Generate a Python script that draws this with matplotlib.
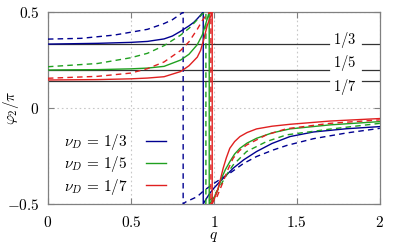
import matplotlib
matplotlib.use("Agg")
import matplotlib.pyplot as plt

plt.rcParams['mathtext.fontset'] = 'cm'
plt.rcParams['font.family'] = ['DejaVu Serif']

# values
nu_labels = ['1/3', '1/5', '1/7']
nu_values = [1/3, 1/5, 1/7]
level_label_y = [0.352, 0.237, 0.111]
colors = ['#000090', '#20a020', '#e02020']

# solid curves
q_solid = [
    [0, 0.3, 0.5, 0.6, 0.7, 0.75, 0.8, 0.85, 0.88, 0.9, 0.92, 0.936, 0.936, 0.955, 0.976, 1.0, 1.036,
     1.075, 1.116, 1.18, 1.257, 1.35, 1.458, 1.6, 1.8, 2.0],
    [0, 0.3, 0.5, 0.6, 0.7, 0.8, 0.85, 0.9, 0.93, 0.955, 0.972, 0.972, 0.995, 1.016, 1.03, 1.046,
     1.07, 1.096, 1.125, 1.157, 1.2, 1.257, 1.35, 1.458, 1.7, 2.0],
    [0, 0.3, 0.5, 0.6, 0.7, 0.8, 0.85, 0.9, 0.92, 0.94, 0.96, 0.99, 0.99, 1.0, 1.013, 1.026, 1.04,
     1.056, 1.075, 1.096, 1.125, 1.157, 1.2, 1.257, 1.35, 1.458, 1.7, 2.0],
]
phi_solid = [
    [0.333, 0.337, 0.342, 0.347, 0.36, 0.375, 0.40, 0.428, 0.447, 0.465, 0.484, 0.5, -0.5, -0.472,
     -0.444, -0.418, -0.384, -0.35, -0.314, -0.27, -0.227, -0.185, -0.149, -0.125, -0.108, -0.097],
    [0.198, 0.200, 0.204, 0.208, 0.217, 0.25, 0.28, 0.33, 0.38, 0.45, 0.5, -0.5, -0.475, -0.444,
     -0.41, -0.366, -0.32, -0.28, -0.24, -0.21, -0.183, -0.158, -0.13, -0.109, -0.088, -0.071],
    [0.146, 0.148, 0.152, 0.156, 0.163, 0.19, 0.22, 0.265, 0.30, 0.36, 0.43, 0.5, -0.5, -0.48, -0.45,
     -0.418, -0.37, -0.314, -0.26, -0.21, -0.175, -0.149, -0.128, -0.109, -0.095, -0.085, -0.068, -0.055],
]

# dashed curves
q_dash = [
    [0, 0.2, 0.4, 0.5, 0.6, 0.7, 0.75, 0.8, 0.815, 0.815, 0.83, 0.9, 0.94, 1.016, 1.096, 1.177,
     1.257, 1.357, 1.44, 1.6, 1.8, 2.0],
    [0, 0.3, 0.5, 0.6, 0.7, 0.8, 0.85, 0.9, 0.93, 0.952, 0.952, 0.99, 1.036, 1.076, 1.116, 1.197,
     1.317, 1.438, 1.7, 2.0],
    [0, 0.3, 0.5, 0.6, 0.7, 0.8, 0.85, 0.9, 0.93, 0.96, 0.982, 0.982, 1.02, 1.056, 1.085, 1.116,
     1.155, 1.197, 1.317, 1.438, 1.7, 2.0],
]
phi_dash = [
    [0.359, 0.363, 0.38, 0.395, 0.41, 0.44, 0.46, 0.49, 0.5, -0.5, -0.49, -0.462, -0.43, -0.384,
     -0.34, -0.29, -0.253, -0.219, -0.195, -0.16, -0.13, -0.106],
    [0.215, 0.232, 0.262, 0.285, 0.325, 0.38, 0.415, 0.46, 0.49, 0.5, -0.5, -0.47, -0.41, -0.349,
     -0.297, -0.227, -0.175, -0.14, -0.11, -0.08],
    [0.155, 0.165, 0.182, 0.205, 0.24, 0.30, 0.345, 0.41, 0.455, 0.49, 0.5, -0.5, -0.46, -0.384,
     -0.32, -0.262, -0.222, -0.193, -0.14, -0.108, -0.08, -0.062],
]

fig = plt.figure(figsize=(3.99, 2.46), dpi=100)
ax = fig.add_axes([0.12, 0.171, 0.832, 0.78])

# reference levels 1/3, 1/5, 1/7, broken where the labels sit
gap_lo, gap_hi = 1.695 / 2, 1.89 / 2
for v in nu_values:
    ax.axhline(v, xmax=gap_lo, color='#333333', lw=0.9, zorder=1)
    ax.axhline(v, xmin=gap_hi, color='#333333', lw=0.9, zorder=1)

for i in range(3):
    ax.plot(q_solid[i], phi_solid[i], color=colors[i], lw=1.0, zorder=3,
            label=r'$\nu_D\,=\,%s$' % nu_labels[i])
    ax.plot(q_dash[i], phi_dash[i], color=colors[i], lw=1.0, ls=(0, (4, 3)), zorder=3)

for lab, y in zip(nu_labels, level_label_y):
    ax.text(1.79, y, '$%s$' % lab, ha='center', va='center', fontsize=10.5, zorder=2)

ax.set_xlim(0, 2)
ax.set_ylim(-0.5, 0.5)
ax.set_xticks([0, 0.5, 1, 1.5, 2])
ax.set_xticklabels(['$0$', '$0.5$', '$1$', '$1.5$', '$2$'])
ax.set_yticks([-0.5, 0, 0.5])
ax.set_yticklabels(['$-0.5$', '$0$', '$0.5$'])
ax.tick_params(direction='in', length=4, width=0.8, color='#808080',
               labelsize=11, top=True, right=True, pad=6)
ax.tick_params(axis='x', pad=8)
for s in ax.spines.values():
    s.set_color('#808080')
    s.set_linewidth(0.9)
ax.grid(True, color='#c8c8c8', ls=(0, (1.5, 2.5)), lw=0.8)
ax.set_axisbelow(True)

ax.set_xlabel('$q$', fontsize=11, labelpad=0)
ax.set_ylabel(r'$\varphi_2/\pi$', fontsize=11)
ax.yaxis.set_label_coords(-0.08, 0.5)

ax.legend(loc='lower left', bbox_to_anchor=(0.02, -0.01), frameon=False,
          markerfirst=False, handlelength=1.3, fontsize=11,
          labelspacing=0.15, handletextpad=1.2, borderaxespad=0.2)

fig.savefig('out.png', dpi=100)
